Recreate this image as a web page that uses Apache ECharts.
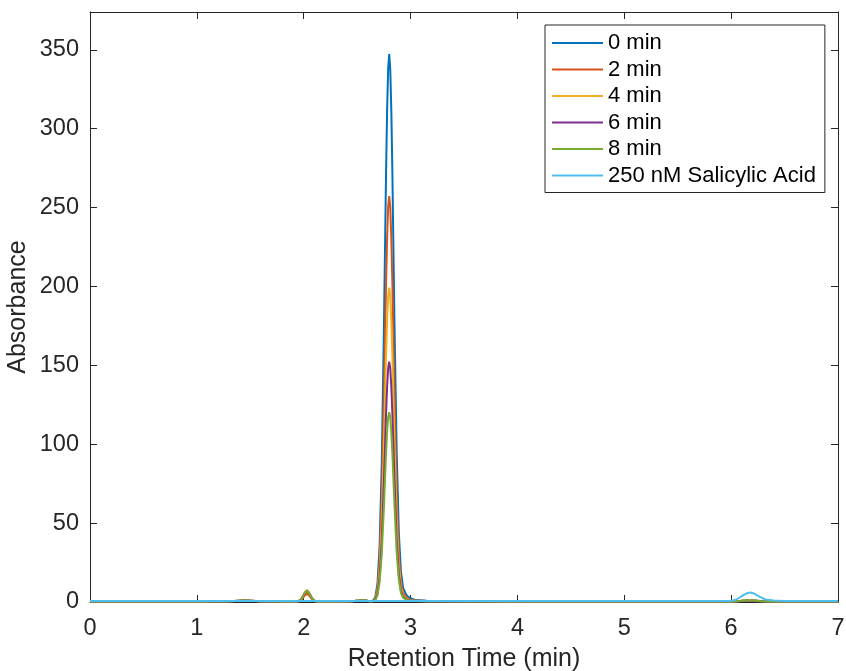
<!DOCTYPE html>
<html>
<head>
<meta charset="utf-8">
<script src="https://cdn.jsdelivr.net/npm/echarts@6/dist/echarts.min.js"></script>
<style>html,body{margin:0;padding:0;background:#fff}#c{width:846px;height:671px}</style>
</head>
<body>
<div id="c"></div>
<script>
const seriesNames = ['0 min', '2 min', '4 min', '6 min', '8 min', '250 nM Salicylic Acid'];
const colors = ['#0072BD', '#D95319', '#EDB120', '#7E2F8E', '#77AC30', '#4DBEEE'];
const xTicks = [0, 1, 2, 3, 4, 5, 6, 7];
const yTicks = [0, 50, 100, 150, 200, 250, 300, 350];

const time = [0, 0.5, 1.0, 1.3, 1.4, 1.45, 1.5, 1.6, 1.9, 1.95,
  1.98, 2.01, 2.03, 2.05, 2.08, 2.11, 2.15, 2.3, 2.45, 2.52,
  2.55, 2.58, 2.62, 2.65, 2.67, 2.69, 2.71, 2.73, 2.75, 2.77,
  2.78, 2.79, 2.80, 2.81, 2.82, 2.83, 2.85, 2.87, 2.89, 2.91,
  2.93, 2.96, 2.99, 3.04, 3.15, 3.4, 4, 5, 5.9, 6.0,
  6.05, 6.1, 6.15, 6.18, 6.22, 6.27, 6.32, 6.4, 6.5, 7];

const min0 = [0.3, 0.3, 0.3, 0.4, 0.8, 1.0, 0.8, 0.4, 0.3, 0.5,
  1.9, 5.3, 6.5, 5.3, 1.9, 0.5, 0.3, 0.3, 0.4, 0.9,
  1.2, 0.9, 0.4, 1.0, 3.1, 11.4, 35.3, 86.7, 171.0, 269.2,
  310.2, 337.6, 347.3, 337.6, 310.9, 271.0, 173.8, 95.0, 44.0, 19.0,
  9.0, 4.5, 2.5, 1.5, 0.8, 0.5, 0.4, 0.3, 0.3, 0.3,
  0.4, 0.6, 0.8, 0.8, 0.7, 0.5, 0.4, 0.3, 0.3, 0.3];
const min2 = [0.3, 0.3, 0.3, 0.4, 0.8, 1.0, 0.8, 0.4, 0.3, 0.4,
  1.5, 4.2, 5.1, 4.2, 1.5, 0.4, 0.3, 0.3, 0.4, 0.9,
  1.3, 0.9, 0.4, 0.8, 2.4, 8.5, 26.3, 64.3, 126.7, 199.5,
  229.8, 250.1, 257.3, 250.1, 230.3, 200.8, 128.8, 68.0, 31.0, 12.5,
  5.8, 2.8, 1.6, 1.0, 0.6, 0.4, 0.3, 0.3, 0.3, 0.3,
  0.4, 0.6, 0.8, 0.8, 0.7, 0.5, 0.4, 0.3, 0.3, 0.3];
const min4 = [0.3, 0.3, 0.3, 0.4, 0.8, 1.0, 0.8, 0.4, 0.3, 0.5,
  2.1, 6.1, 7.6, 6.1, 2.1, 0.5, 0.3, 0.3, 0.4, 1.0,
  1.4, 1.0, 0.4, 0.7, 1.9, 6.7, 20.4, 49.9, 98.2, 154.5,
  178.0, 193.7, 199.3, 193.7, 178.4, 155.5, 99.8, 52.0, 23.5, 9.4,
  4.3, 2.1, 1.3, 0.9, 0.5, 0.4, 0.3, 0.3, 0.3, 0.3,
  0.5, 0.8, 1.0, 1.0, 0.9, 0.6, 0.4, 0.3, 0.3, 0.3];
const min6 = [0.3, 0.3, 0.3, 0.4, 0.8, 1.0, 0.8, 0.4, 0.3, 0.5,
  2.0, 5.8, 7.2, 5.8, 2.0, 0.5, 0.3, 0.3, 0.4, 0.9,
  1.2, 0.9, 0.4, 0.6, 1.5, 5.2, 15.7, 38.1, 75.1, 118.1,
  136.0, 148.0, 152.3, 148.0, 136.3, 118.9, 76.3, 39.8, 17.8, 7.1,
  3.3, 1.7, 1.1, 0.8, 0.5, 0.4, 0.3, 0.3, 0.3, 0.3,
  0.5, 0.8, 1.0, 1.0, 0.9, 0.6, 0.4, 0.3, 0.3, 0.3];
const min8 = [0.3, 0.3, 0.3, 0.4, 0.8, 1.0, 0.8, 0.4, 0.3, 0.5,
  2.0, 5.7, 7.1, 5.7, 2.0, 0.5, 0.3, 0.3, 0.4, 0.9,
  1.2, 0.9, 0.4, 0.5, 1.3, 4.1, 12.4, 30.2, 59.3, 93.3,
  107.5, 116.9, 120.3, 116.9, 107.7, 93.9, 60.3, 31.5, 14.1, 5.7,
  2.7, 1.4, 0.9, 0.7, 0.4, 0.4, 0.3, 0.3, 0.3, 0.3,
  0.5, 0.8, 1.1, 1.1, 0.9, 0.6, 0.4, 0.3, 0.3, 0.3];
const salicylic = [0.6, 0.6, 0.6, 0.6, 0.6, 0.6, 0.6, 0.6, 0.6, 0.6,
  0.6, 0.6, 0.6, 0.6, 0.6, 0.6, 0.6, 0.6, 0.6, 0.6,
  0.6, 0.6, 0.6, 0.6, 0.6, 0.6, 0.6, 0.6, 0.6, 0.6,
  0.6, 0.6, 0.6, 0.6, 0.6, 0.6, 0.6, 0.6, 0.6, 0.6,
  0.6, 0.6, 0.6, 0.6, 0.6, 0.6, 0.6, 0.6, 0.6, 0.7,
  1.6, 3.8, 5.6, 6.0, 5.2, 3.2, 1.6, 0.9, 0.6, 0.6];

const allValues = [min0, min2, min4, min6, min8, salicylic];

const font = 'Liberation Sans, Arial, Helvetica, sans-serif';
const axisColor = '#262626';

const series = seriesNames.map((name, i) => ({
  name: name,
  type: 'line',
  data: time.map((t, k) => [t, allValues[i][k]]),
  showSymbol: false,
  symbol: 'none',
  lineStyle: { width: 2, color: colors[i] },
  itemStyle: { color: colors[i] },
  xAxisIndex: 0,
  yAxisIndex: 0,
  animation: false,
  z: 2 + i
}));

const chart = echarts.init(document.getElementById('c'));
chart.setOption({
  animation: false,
  backgroundColor: '#fff',
  textStyle: { fontFamily: font },
  grid: { left: 90, right: 8, top: 12, bottom: 69, containLabel: false, outerBoundsMode: 'none' },
  legend: {
    data: seriesNames,
    orient: 'vertical',
    left: 545,
    top: 25,
    itemWidth: 51,
    itemHeight: 14,
    itemGap: 4.5,
    padding: [7, 9, 6, 7],
    borderColor: axisColor,
    borderWidth: 1,
    backgroundColor: '#fff',
    textStyle: { fontFamily: font, fontSize: 22, color: '#000', lineHeight: 22, padding: [0, 0, 0, 0] },
    icon: 'path://M0,0 L50,0 L50,2 L0,2 Z'
  },
  xAxis: [{
    type: 'value', min: 0, max: 7, interval: 1,
    name: 'Retention Time (min)', nameLocation: 'middle', nameGap: 45, nameMoveOverlap: false,
    nameTextStyle: { fontFamily: font, fontSize: 25, color: axisColor },
    axisLine: { show: true, lineStyle: { color: axisColor, width: 1 } },
    axisTick: { show: true, inside: true, length: 7, lineStyle: { color: axisColor } },
    axisLabel: { fontFamily: font, fontSize: 23.5, color: axisColor, margin: 15 },
    splitLine: { show: false }
  }, {
    type: 'value', min: 0, max: 7, interval: 1, position: 'top',
    axisLine: { show: true, onZero: false, lineStyle: { color: axisColor, width: 1 } },
    axisTick: { show: true, inside: true, length: 7, lineStyle: { color: axisColor } },
    axisLabel: { show: false },
    splitLine: { show: false }
  }],
  yAxis: [{
    type: 'value', min: 0, max: 374, interval: 50,
    name: 'Absorbance', nameLocation: 'middle', nameGap: 59, nameMoveOverlap: false,
    nameTextStyle: { fontFamily: font, fontSize: 25, color: axisColor },
    axisLine: { show: true, lineStyle: { color: axisColor, width: 1 } },
    axisTick: { show: true, inside: true, length: 7, lineStyle: { color: axisColor } },
    axisLabel: {
      fontFamily: font, fontSize: 23.5, color: axisColor, margin: 11,
      formatter: v => (yTicks.indexOf(v) >= 0 ? String(v) : '')
    },
    splitLine: { show: false }
  }, {
    type: 'value', min: 0, max: 374, interval: 50, position: 'right',
    axisLine: { show: true, onZero: false, lineStyle: { color: axisColor, width: 1 } },
    axisTick: { show: true, inside: true, length: 7, lineStyle: { color: axisColor } },
    axisLabel: { show: false },
    splitLine: { show: false }
  }],
  series: series
});
</script>
</body>
</html>
